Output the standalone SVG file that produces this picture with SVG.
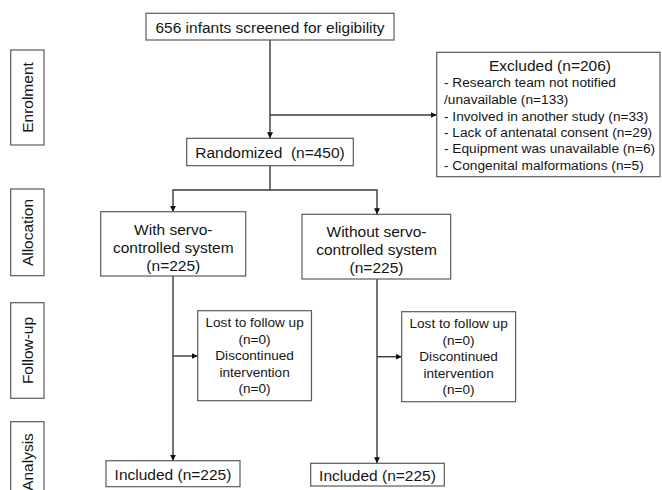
<svg xmlns="http://www.w3.org/2000/svg" width="662" height="490" viewBox="0 0 662 490">
<defs>
<marker id="arr" viewBox="0 0 10 10" refX="10" refY="5" markerWidth="6" markerHeight="6" markerUnits="userSpaceOnUse" orient="auto">
<path d="M0,0 L10,5 L0,10 z" fill="#111"/>
</marker>
<style>
.box{fill:#fff;stroke:#5a5a5a;stroke-width:1.2}
.t{font-family:"Liberation Sans",Arial,sans-serif;font-size:15.5px;fill:#151515}
.c{text-anchor:middle}
.s{font-size:13.7px}
.l{font-size:13.6px}
.ln{fill:none;stroke:#3a3a3a;stroke-width:1.4}
.ar{marker-end:url(#arr)}
</style>
</defs>
<rect width="662" height="490" fill="#fff"/>

<g id="stage-enrolment">
<rect class="box" x="10.7" y="50" width="33.3" height="95"/>
<text class="t c" transform="translate(33,97.5) rotate(-90)">Enrolment</text>
</g>
<g id="stage-allocation">
<rect class="box" x="10.7" y="189" width="33.3" height="86.7"/>
<text class="t c" transform="translate(33,232.5) rotate(-90)">Allocation</text>
</g>
<g id="stage-followup">
<rect class="box" x="10.7" y="302.7" width="33.3" height="95.6"/>
<text class="t c" transform="translate(33,350.5) rotate(-90)">Follow-up</text>
</g>
<g id="stage-analysis">
<rect class="box" x="10.7" y="421.7" width="33.3" height="80"/>
<text class="t c" transform="translate(33,462) rotate(-90)">Analysis</text>
</g>

<g id="connectors">
<line class="ln ar" x1="270" y1="40" x2="270" y2="138.3"/>
<line class="ln ar" x1="270" y1="115" x2="436.7" y2="115"/>
<polyline class="ln" points="270,165.7 270,190"/>
<polyline class="ln ar" points="270,190 173,190 173,211.7"/>
<polyline class="ln ar" points="270,190 377,190 377,214.3"/>
<line class="ln ar" x1="173" y1="276" x2="173" y2="460.7"/>
<line class="ln ar" x1="173" y1="356" x2="197.7" y2="356"/>
<line class="ln ar" x1="377" y1="279" x2="377" y2="463.3"/>
<line class="ln ar" x1="377" y1="356.7" x2="401.7" y2="356.7"/>
</g>

<g id="screened">
<rect class="box" x="146" y="13.3" width="248" height="26.7"/>
<text class="t c" x="270" y="32.5">656 infants screened for eligibility</text>
</g>

<g id="excluded">
<rect class="box" x="436.7" y="52.3" width="223.3" height="124.4"/>
<text class="t c" x="550" y="70.7">Excluded (n=206)</text>
<text class="t s" x="444" y="87.3">- Research team not notified</text>
<text class="t s" x="444" y="104">/unavailable (n=133)</text>
<text class="t s" x="444" y="120.7">- Involved in another study (n=33)</text>
<text class="t s" x="444" y="136.9">- Lack of antenatal consent (n=29)</text>
<text class="t s" x="444" y="153.3">- Equipment was unavailable (n=6)</text>
<text class="t s" x="444" y="169.5">- Congenital malformations (n=5)</text>
</g>

<g id="randomized">
<rect class="box" x="186.7" y="138.3" width="166.6" height="27.4"/>
<text class="t c" x="270" y="158.3" xml:space="preserve">Randomized  (n=450)</text>
</g>

<g id="with-servo">
<rect class="box" x="100.7" y="211.7" width="145" height="64.3"/>
<text class="t c" x="173.3" y="235">With servo-</text>
<text class="t c" x="173.3" y="253">controlled system</text>
<text class="t c" x="173.3" y="270.5">(n=225)</text>
</g>

<g id="without-servo">
<rect class="box" x="302" y="214.3" width="148.7" height="64.7"/>
<text class="t c" x="376.5" y="237">Without servo-</text>
<text class="t c" x="376.5" y="255">controlled system</text>
<text class="t c" x="376.5" y="272.5">(n=225)</text>
</g>

<g id="lost-with">
<rect class="box" x="197.7" y="310.7" width="113.8" height="90"/>
<text class="t c l" x="254.6" y="327">Lost to follow up</text>
<text class="t c l" x="254.6" y="343.7">(n=0)</text>
<text class="t c l" x="254.6" y="360.3">Discontinued</text>
<text class="t c l" x="254.6" y="376.8">intervention</text>
<text class="t c l" x="254.6" y="393.3">(n=0)</text>
</g>

<g id="lost-without">
<rect class="box" x="401.7" y="311.7" width="113.9" height="90"/>
<text class="t c l" x="458.6" y="328">Lost to follow up</text>
<text class="t c l" x="458.6" y="344.5">(n=0)</text>
<text class="t c l" x="458.6" y="361">Discontinued</text>
<text class="t c l" x="458.6" y="377.5">intervention</text>
<text class="t c l" x="458.6" y="394">(n=0)</text>
</g>

<g id="included-with">
<rect class="box" x="106" y="460.7" width="134" height="26"/>
<text class="t c" x="173" y="480">Included (n=225)</text>
</g>

<g id="included-without">
<rect class="box" x="310.7" y="463.3" width="133.6" height="22.7"/>
<text class="t c" x="377.5" y="481.3">Included (n=225)</text>
</g>
</svg>
